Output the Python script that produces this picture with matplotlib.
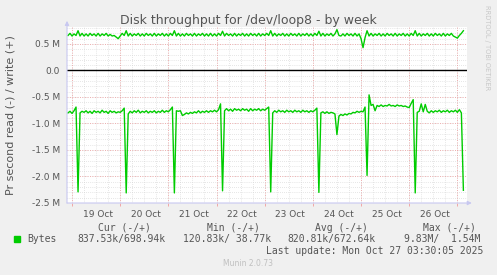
import numpy as np
import matplotlib.pyplot as plt
from matplotlib.patches import Rectangle

# hours since 19 Oct 00:00, one sample per hour
hours = np.arange(-2, 196)

# read (negative) in M bytes/s
read_mb = [
    -0.80, -0.77, -0.81, -0.76, -0.69, -2.29,
    # 19 Oct 04h .. 20 Oct 03h
    -0.80, -0.77, -0.79, -0.76, -0.80, -0.77, -0.81, -0.76, -0.79, -0.77, -0.80, -0.75,
    -0.79, -0.77, -0.81, -0.76, -0.79, -0.77, -0.80, -0.78, -0.79, -0.76, -0.71, -2.31,
    # 20 Oct
    -0.82, -0.77, -0.80, -0.76, -0.79, -0.75, -0.80, -0.77, -0.79, -0.76, -0.80, -0.77,
    -0.79, -0.76, -0.80, -0.77, -0.79, -0.75, -0.79, -0.76, -0.78, -0.74, -0.69, -2.31,
    # 21 Oct
    -0.76, -0.77, -0.76, -0.85, -0.83, -0.80, -0.82, -0.79, -0.81, -0.78, -0.80, -0.76,
    -0.80, -0.77, -0.79, -0.76, -0.79, -0.76, -0.78, -0.75, -0.78, -0.74, -0.63, -2.27,
    # 22 Oct
    -0.76, -0.72, -0.76, -0.73, -0.77, -0.72, -0.75, -0.73, -0.76, -0.72, -0.75, -0.73,
    -0.77, -0.72, -0.76, -0.73, -0.75, -0.72, -0.76, -0.73, -0.75, -0.72, -0.69, -2.29,
    # 23 Oct
    -0.80, -0.76, -0.79, -0.75, -0.78, -0.76, -0.79, -0.75, -0.78, -0.76, -0.79, -0.75,
    -0.78, -0.76, -0.79, -0.75, -0.78, -0.76, -0.79, -0.76, -0.78, -0.75, -0.71, -2.30,
    # 24 Oct
    -0.80, -0.78, -0.81, -0.78, -0.81, -0.79, -0.80, -0.82, -1.21, -0.86, -0.83, -0.85,
    -0.82, -0.84, -0.81, -0.82, -0.79, -0.80, -0.77, -0.79, -0.77, -0.78, -0.69, -1.98,
    # 25 Oct
    -0.46, -0.66, -0.64, -0.76, -0.66, -0.68, -0.65, -0.68, -0.66, -0.67, -0.64, -0.67,
    -0.66, -0.68, -0.65, -0.67, -0.66, -0.68, -0.67, -0.69, -0.70, -0.62, -0.55, -2.31,
    # 26 Oct
    -0.79, -0.77, -0.63, -0.78, -0.64, -0.77, -0.80, -0.76, -0.79, -0.76, -0.78, -0.75,
    -0.79, -0.76, -0.78, -0.75, -0.79, -0.76, -0.78, -0.75, -0.79, -0.74, -0.80, -2.26,
]

# write (positive) in M bytes/s
write_mb = [
    0.66, 0.70, 0.65, 0.69, 0.66, 0.75,
    0.65, 0.70, 0.65, 0.69, 0.65, 0.70, 0.66, 0.69, 0.65, 0.70, 0.65, 0.69,
    0.66, 0.70, 0.65, 0.68, 0.65, 0.66, 0.63, 0.60, 0.65, 0.70, 0.66, 0.75,
    0.65, 0.70, 0.65, 0.69, 0.66, 0.70, 0.65, 0.69, 0.65, 0.70, 0.66, 0.69,
    0.65, 0.70, 0.65, 0.69, 0.66, 0.70, 0.65, 0.69, 0.65, 0.70, 0.66, 0.75,
    0.65, 0.70, 0.65, 0.69, 0.65, 0.70, 0.66, 0.69, 0.65, 0.70, 0.65, 0.69,
    0.66, 0.70, 0.65, 0.69, 0.65, 0.70, 0.65, 0.69, 0.65, 0.70, 0.66, 0.74,
    0.65, 0.70, 0.66, 0.69, 0.65, 0.70, 0.65, 0.69, 0.66, 0.70, 0.65, 0.69,
    0.65, 0.70, 0.66, 0.69, 0.65, 0.70, 0.65, 0.69, 0.66, 0.70, 0.66, 0.75,
    0.65, 0.70, 0.65, 0.69, 0.66, 0.70, 0.65, 0.69, 0.65, 0.70, 0.66, 0.69,
    0.65, 0.70, 0.65, 0.69, 0.66, 0.70, 0.65, 0.69, 0.65, 0.70, 0.66, 0.74,
    0.65, 0.70, 0.65, 0.69, 0.66, 0.70, 0.65, 0.69, 0.77, 0.66, 0.65, 0.69,
    0.65, 0.70, 0.66, 0.69, 0.65, 0.70, 0.65, 0.69, 0.60, 0.43, 0.62, 0.75,
    0.65, 0.70, 0.65, 0.69, 0.66, 0.70, 0.65, 0.69, 0.65, 0.70, 0.66, 0.69,
    0.65, 0.70, 0.65, 0.69, 0.66, 0.70, 0.65, 0.69, 0.65, 0.70, 0.66, 0.75,
    0.65, 0.70, 0.65, 0.69, 0.66, 0.70, 0.65, 0.69, 0.65, 0.70, 0.66, 0.69,
    0.65, 0.70, 0.65, 0.69, 0.66, 0.70, 0.65, 0.63, 0.61, 0.66, 0.70, 0.75,
]

day_labels = ['19 Oct', '20 Oct', '21 Oct', '22 Oct', '23 Oct', '24 Oct', '25 Oct', '26 Oct']
y_ticks = [-2.5, -2.0, -1.5, -1.0, -0.5, 0.0, 0.5]
y_tick_labels = ['-2.5 M', '-2.0 M', '-1.5 M', '-1.0 M', '-0.5 M', '0.0', '0.5 M']

headers = ['Cur (-/+)', 'Min (-/+)', 'Avg (-/+)', 'Max (-/+)']
values = ['837.53k/698.94k', '120.83k/ 38.77k', '820.81k/672.64k', '9.83M/  1.54M']

W, H = 497, 275
BG = '#f0f0f0'
TXT = '#555555'
GREEN = '#00cc00'
MGRID = '#f09a9a'

fig = plt.figure(figsize=(W / 100, H / 100), dpi=100, facecolor=BG)
ax = fig.add_axes([67 / W, 1 - 203 / H, 400 / W, 176 / H])
ax.set_facecolor('white')

def fx(x):
    return x / W

def fy(y):
    return 1 - y / H

# grid
for v in np.arange(-2.5, 0.85, 0.1):
    ax.axhline(v, color='#cfcfcf', lw=0.5, ls=(0, (1, 2)), zorder=0)
for v in y_ticks:
    ax.axhline(v, color=MGRID, lw=0.6, ls=(0, (1, 2)), zorder=1)
for h in np.arange(-24, 200, 6):
    ax.axvline(h, color='#cfcfcf', lw=0.5, ls=(0, (1, 2)), zorder=0)
for h in np.arange(0, 200, 24):
    ax.axvline(h, color=MGRID, lw=0.6, ls=(0, (1, 2)), zorder=1)

ax.axhline(0, color='black', lw=1.0, zorder=2)
ax.plot(hours, read_mb, color=GREEN, lw=1.0, zorder=3)
ax.plot(hours, write_mb, color=GREEN, lw=1.0, zorder=3)

ax.set_xlim(-2.5, 196.8)
ax.set_ylim(-2.5, 0.82)
ax.set_yticks(y_ticks)
ax.set_yticklabels(y_tick_labels)
ax.set_xticks([12.8 + 24 * i for i in range(len(day_labels))])
ax.set_xticklabels(day_labels)
ax.set_xticks(np.arange(0, 200, 24), minor=True)
ax.tick_params(length=0, labelsize=6.5, colors=TXT, pad=5)
ax.tick_params(axis='x', which='minor', length=2.5, width=0.6, color=MGRID)
for s in ax.spines.values():
    s.set_visible(False)

# axis arrows
ax.annotate('', xy=(0, 1.035), xytext=(0, 0), xycoords='axes fraction',
            arrowprops=dict(arrowstyle='-|>', color='#c8c8f0', lw=0.8,
                            mutation_scale=6, shrinkA=0, shrinkB=0))
ax.annotate('', xy=(1.012, 0), xytext=(0, 0), xycoords='axes fraction',
            arrowprops=dict(arrowstyle='-|>', color='#c8c8f0', lw=0.8,
                            mutation_scale=6, shrinkA=0, shrinkB=0))

fig.text(fx(248), fy(24), 'Disk throughput for /dev/loop8 - by week',
         ha='center', va='baseline', fontsize=9, color=TXT)
fig.text(fx(11), fy(115), 'Pr second read (-) / write (+)', rotation=90,
         ha='center', va='center', fontsize=8, color=TXT)
fig.text(fx(487), fy(5), 'RRDTOOL / TOBI OETIKER', rotation=-90,
         ha='center', va='top', fontsize=4.8, color='#c8c8c8')

# legend block
mono = dict(family='DejaVu Sans Mono', fontsize=7, color=TXT, va='center')
for x, t in zip([98, 207, 315, 423], headers):
    fig.text(fx(x), fy(228), t, ha='left', **mono)
fig.add_artist(Rectangle((fx(14), fy(242)), 6 / W, 6 / H, color=GREEN,
                         transform=fig.transFigure))
fig.text(fx(27), fy(239), 'Bytes', ha='left', **mono)
for x, t in zip([77, 183, 287, 404], values):
    fig.text(fx(x), fy(239), t, ha='left', **mono)
fig.text(fx(483), fy(251), 'Last update: Mon Oct 27 03:30:05 2025', ha='right', **mono)
fig.text(fx(248), fy(264), 'Munin 2.0.73', ha='center', va='center',
         fontsize=5.5, color='#c0c0c0')

fig.savefig('out.png', dpi=100, facecolor=BG)
